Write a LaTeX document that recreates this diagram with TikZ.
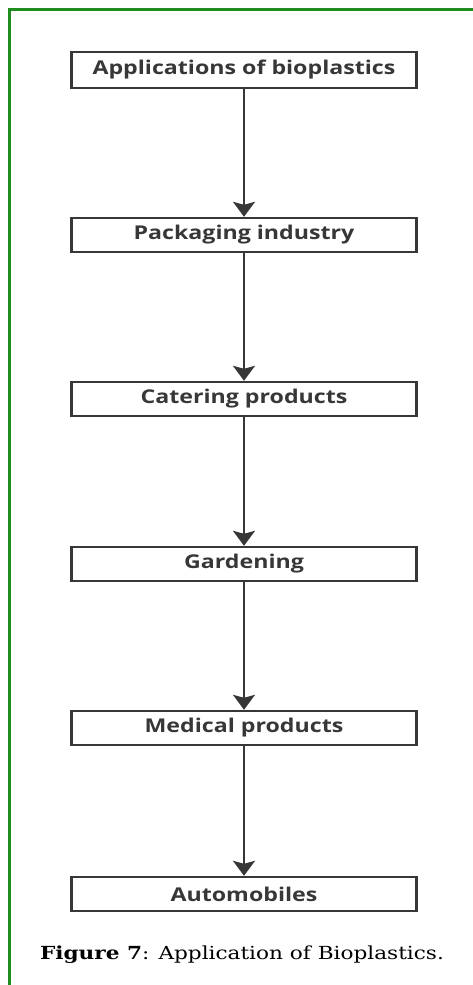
\documentclass[tikz,border=0pt]{standalone}
\usepackage{fontspec}
\usepackage{xcolor}
\usetikzlibrary{arrows.meta, positioning}
\newfontfamily\boxfont{Open Sans}[FakeStretch=1.22]
\newfontfamily\capfont{DejaVu Serif}[FakeStretch=1.2]
\definecolor{frameGreen}{RGB}{30,140,30}
\definecolor{boxGray}{RGB}{55,55,55}

\begin{document}
\begin{tikzpicture}[x=1pt, y=-1pt,
    stage/.style={rectangle, draw=boxGray, line width=2.4pt, minimum width=345pt, minimum height=34pt, inner sep=0pt, font=\boxfont\bfseries\fontsize{19}{21}\selectfont, text=boxGray},
    arrow/.style={-{Stealth[width=22pt, length=15pt, inset=3pt]}, line width=2pt, draw=boxGray}
]
    \useasboundingbox (0,0) rectangle (473,985);
    % green frame (left and top)
    \draw[frameGreen, line width=2.5pt] (9.5,985) -- (9.5,9.5) -- (473,9.5);

    \node[stage, minimum height=36pt] (apps) at (244,70) {Applications of bioplastics};
    \node[stage] (pack) at (244,235) {Packaging industry};
    \node[stage] (cater) at (244,399) {Catering products};
    \node[stage] (garden) at (244,564) {Gardening};
    \node[stage] (medical) at (244,728) {Medical products};
    \node[stage] (auto) at (244,894) {Automobiles};

    \draw[arrow] (apps) -- (pack);
    \draw[arrow] (pack) -- (cater);
    \draw[arrow] (cater) -- (garden);
    \draw[arrow] (garden) -- (medical);
    \draw[arrow] (medical) -- (auto);

    \node[font=\capfont\fontsize{18}{20}\selectfont] (caption) at (242,955) {\textbf{Figure 7}: Application of Bioplastics.};
\end{tikzpicture}
\end{document}
